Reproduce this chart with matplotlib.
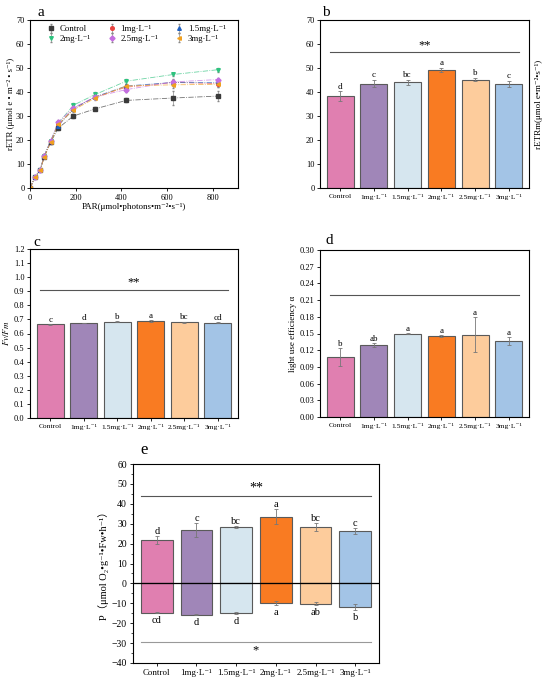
import numpy as np
import matplotlib.pyplot as plt

plt.rcParams['font.family'] = ['Liberation Serif', 'DejaVu Serif']
plt.rcParams['mathtext.fontset'] = 'stix'
plt.rcParams['font.size'] = 6

groups = ['Control', '1mg·L⁻¹', '1.5mg·L⁻¹', '2mg·L⁻¹', '2.5mg·L⁻¹', '3mg·L⁻¹']
bar_colors = ['#e07fb0', '#a086b8', '#d6e6ef', '#f97b22', '#fdcc9c', '#a3c4e6']
edge = '#5a5a5a'

# panel a: light response curves
par = [0, 22, 44, 63, 90, 124, 190, 286, 421, 627, 823]
retr = {
    'Control': [0, 4.5, 7.5, 13.0, 19.0, 25.0, 30.0, 33.0, 36.5, 37.5, 38.3],
    '1mg·L⁻¹': [0, 4.5, 7.5, 13.5, 19.5, 26.5, 33.0, 38.0, 42.0, 44.0, 43.5],
    '1.5mg·L⁻¹': [0, 4.5, 7.5, 13.5, 19.5, 26.0, 33.0, 38.0, 42.5, 44.0, 44.0],
    '2mg·L⁻¹': [0, 4.5, 7.5, 13.5, 19.5, 27.0, 34.5, 39.0, 44.5, 47.3, 49.3],
    '2.5mg·L⁻¹': [0, 4.5, 7.5, 13.5, 19.5, 27.5, 33.5, 38.0, 41.0, 44.2, 45.2],
    '3mg·L⁻¹': [0, 4.5, 7.5, 13.0, 19.0, 26.5, 32.5, 37.5, 42.5, 43.0, 43.2],
}
retr_err = {
    'Control': [0, 0.3, 0.3, 0.5, 0.5, 0.8, 0.8, 0.7, 0.8, 3.0, 2.0],
    '1mg·L⁻¹': [0, 0.3, 0.3, 0.5, 0.5, 0.8, 0.8, 0.8, 1.0, 1.5, 1.5],
    '1.5mg·L⁻¹': [0, 0.3, 0.3, 0.5, 0.5, 0.8, 0.8, 0.8, 1.0, 1.0, 1.0],
    '2mg·L⁻¹': [0, 0.3, 0.3, 0.5, 0.5, 0.8, 0.8, 0.8, 1.0, 0.8, 0.8],
    '2.5mg·L⁻¹': [0, 0.3, 0.3, 0.5, 0.5, 0.8, 0.8, 0.8, 1.0, 0.7, 0.7],
    '3mg·L⁻¹': [0, 0.3, 0.3, 0.5, 0.5, 0.8, 0.8, 0.8, 1.0, 1.2, 1.2],
}
line_colors = ['#3a3a3a', '#e8423f', '#1f5fbf', '#2ec27e', '#c46ee0', '#f0a020']
markers = ['s', 'o', '^', 'v', 'D', '<']

# panel b
retrm = [38.3, 43.5, 44.0, 49.3, 45.2, 43.4]
retrm_err = [2.0, 1.5, 1.0, 0.8, 0.7, 1.2]
retrm_let = ['d', 'c', 'bc', 'a', 'b', 'c']

# panel c
fvfm = [0.665, 0.675, 0.684, 0.689, 0.681, 0.678]
fvfm_err = [0.004, 0.003, 0.003, 0.004, 0.003, 0.004]
fvfm_let = ['c', 'd', 'b', 'a', 'bc', 'cd']

# panel d
alpha = [0.108, 0.129, 0.150, 0.145, 0.148, 0.137]
alpha_err = [0.016, 0.004, 0.001, 0.002, 0.032, 0.007]
alpha_let = ['b', 'ab', 'a', 'a', 'a', 'a']

# panel e
pn = [21.8, 26.8, 28.2, 33.6, 28.4, 26.3]
pn_err = [2.0, 3.5, 0.5, 3.8, 2.0, 1.3]
pn_let = ['d', 'c', 'bc', 'a', 'bc', 'c']
rd = [-14.8, -15.8, -14.8, -9.7, -10.2, -12.0]
rd_err = [0.3, 0.3, 0.5, 1.0, 0.8, 1.5]
rd_let = ['cd', 'd', 'd', 'a', 'ab', 'b']

W, H = 550, 684
fig = plt.figure(figsize=(W / 100, H / 100), dpi=100)


def box(l, t, r, b):
    return fig.add_axes([l / W, 1 - b / H, (r - l) / W, (b - t) / H])


def bar_panel(ax, vals, errs, lets, off):
    x = np.arange(len(vals))
    ax.bar(x, vals, 0.8, color=bar_colors, edgecolor=edge, linewidth=0.8, zorder=2)
    ax.errorbar(x, vals, yerr=errs, fmt='none', ecolor='#777777', elinewidth=0.6, capsize=1.5, capthick=0.6, zorder=3)
    for xi, v, e, s in zip(x, vals, errs, lets):
        ax.text(xi, v + e + off, s, ha='center', va='bottom', fontsize=6.5)
    ax.set_xticks(x)
    ax.set_xticklabels(groups, fontsize=5.4)
    ax.set_xlim(-0.6, 5.6)
    ax.tick_params(length=2, width=0.6, pad=2)


# a
ax = box(30, 20, 238, 188)
handles = []
for (k, y), c, m in zip(retr.items(), line_colors, markers):
    ax.plot(par, y, ls='-.', lw=0.6, color=c, alpha=0.7)
    h = ax.errorbar(par, y, yerr=retr_err[k], fmt=m, ms=2.6, color=c, ecolor='#888888', elinewidth=0.5, capsize=1, label=k)
    handles.append(h)
ax.set_xlim(0, 910)
ax.set_ylim(0, 70)
ax.set_yticks(range(0, 71, 10))
ax.set_xticks([0, 200, 400, 600, 800])
ax.set_xlabel('PAR(μmol•photons•m⁻²•s⁻¹)', fontsize=6.5, labelpad=1)
ax.set_ylabel('rETR (μmol e • m⁻² • s⁻¹)', fontsize=6.3, labelpad=1)
ax.tick_params(length=2, width=0.6, pad=2)
# row-major legend order for a 3-column legend
order = [0, 3, 1, 4, 2, 5]
ax.legend([handles[i] for i in order], [list(retr.keys())[i] for i in order], ncol=3, frameon=False,
          loc='upper left', fontsize=6.3, handletextpad=0.4, columnspacing=1.8,
          borderaxespad=0.2, labelspacing=0.15, handlelength=1.2, bbox_to_anchor=(0.05, 1.0))
fig.text(38 / W, 1 - 12 / H, 'a', fontsize=11, va='center')

# b
ax = box(320, 20, 529, 188)
bar_panel(ax, retrm, retrm_err, retrm_let, 0.3)
ax.set_ylim(0, 70)
ax.set_yticks(range(0, 71, 10))
ax.plot([-0.3, 5.3], [56.5, 56.5], color='#555555', lw=0.8)
ax.text(2.5, 57, '**', ha='center', va='bottom', fontsize=9)
ax.yaxis.set_label_position('right')
ax.set_ylabel('rETRm(μmol e•m⁻²•s⁻¹)', fontsize=6.5, labelpad=4)
fig.text(322 / W, 1 - 12 / H, 'b', fontsize=11, va='center')

# c
ax = box(30, 249, 238, 418)
bar_panel(ax, fvfm, fvfm_err, fvfm_let, 0.002)
ax.set_ylim(0, 1.2)
ax.set_yticks(np.arange(0, 1.21, 0.1))
ax.set_yticklabels([f'{v:.1f}' for v in np.arange(0, 1.21, 0.1)])
ax.plot([-0.3, 5.3], [0.91, 0.91], color='#555555', lw=0.8)
ax.text(2.5, 0.92, '**', ha='center', va='bottom', fontsize=9)
ax.set_ylabel('$Fv/Fm$', fontsize=6.5, labelpad=2)
fig.text(33 / W, 1 - 243 / H, 'c', fontsize=11, va='center')

# d
ax = box(320, 250, 529, 417)
bar_panel(ax, alpha, alpha_err, alpha_let, 0.0005)
ax.set_ylim(0, 0.30)
ax.set_yticks(np.arange(0, 0.301, 0.03))
ax.set_yticklabels([f'{v:.2f}' for v in np.arange(0, 0.301, 0.03)])
ax.plot([-0.3, 5.3], [0.22, 0.22], color='#555555', lw=0.8)
ax.set_ylabel('light use efficiency α', fontsize=6.5, labelpad=2)
fig.text(326 / W, 1 - 240 / H, 'd', fontsize=11, va='center')

# e
ax = box(133, 464, 379, 663)
x = np.arange(6)
ax.bar(x, pn, 0.8, color=bar_colors, edgecolor=edge, linewidth=0.8, zorder=2)
ax.bar(x, rd, 0.8, color=bar_colors, edgecolor=edge, linewidth=0.8, zorder=2)
ax.errorbar(x, pn, yerr=pn_err, fmt='none', ecolor='#777777', elinewidth=0.6, capsize=1.5, capthick=0.6, zorder=3)
ax.errorbar(x, rd, yerr=rd_err, fmt='none', ecolor='#777777', elinewidth=0.6, capsize=1.5, capthick=0.6, zorder=3)
for xi, v, e, s in zip(x, pn, pn_err, pn_let):
    ax.text(xi, v + e + 0.2, s, ha='center', va='bottom', fontsize=7.5)
for xi, v, e, s in zip(x, rd, rd_err, rd_let):
    ax.text(xi, v - e - 1.5, s, ha='center', va='top', fontsize=7.5)
ax.axhline(0, color='black', lw=0.9, zorder=4)
ax.plot([-0.4, 5.4], [44, 44], color='#555555', lw=0.8)
ax.text(2.5, 44.5, '**', ha='center', va='bottom', fontsize=10)
ax.plot([-0.4, 5.4], [-29.5, -29.5], color='#999999', lw=0.8)
ax.text(2.5, -30.5, '*', ha='center', va='top', fontsize=9)
ax.set_xticks(x)
ax.set_xticklabels(groups)
ax.set_xlim(-0.6, 5.6)
ax.set_ylim(-40, 60)
ax.set_yticks(range(-40, 61, 10))
ax.set_yticks(range(-35, 60, 10), minor=True)
ax.tick_params(labelsize=7, length=2.5, width=0.6, pad=2)
ax.tick_params(axis='x', labelsize=6.4)
ax.tick_params(which='minor', length=1.5, width=0.5)
ax.set_ylabel('P（μmol O₂•g⁻¹•Fw•h⁻¹）', fontsize=7.5, labelpad=2,
              family=['Liberation Serif', 'DejaVu Serif', 'Noto Sans CJK SC'])
fig.text(140 / W, 1 - 450 / H, 'e', fontsize=12, va='center')

fig.savefig('out.png', dpi=100)
